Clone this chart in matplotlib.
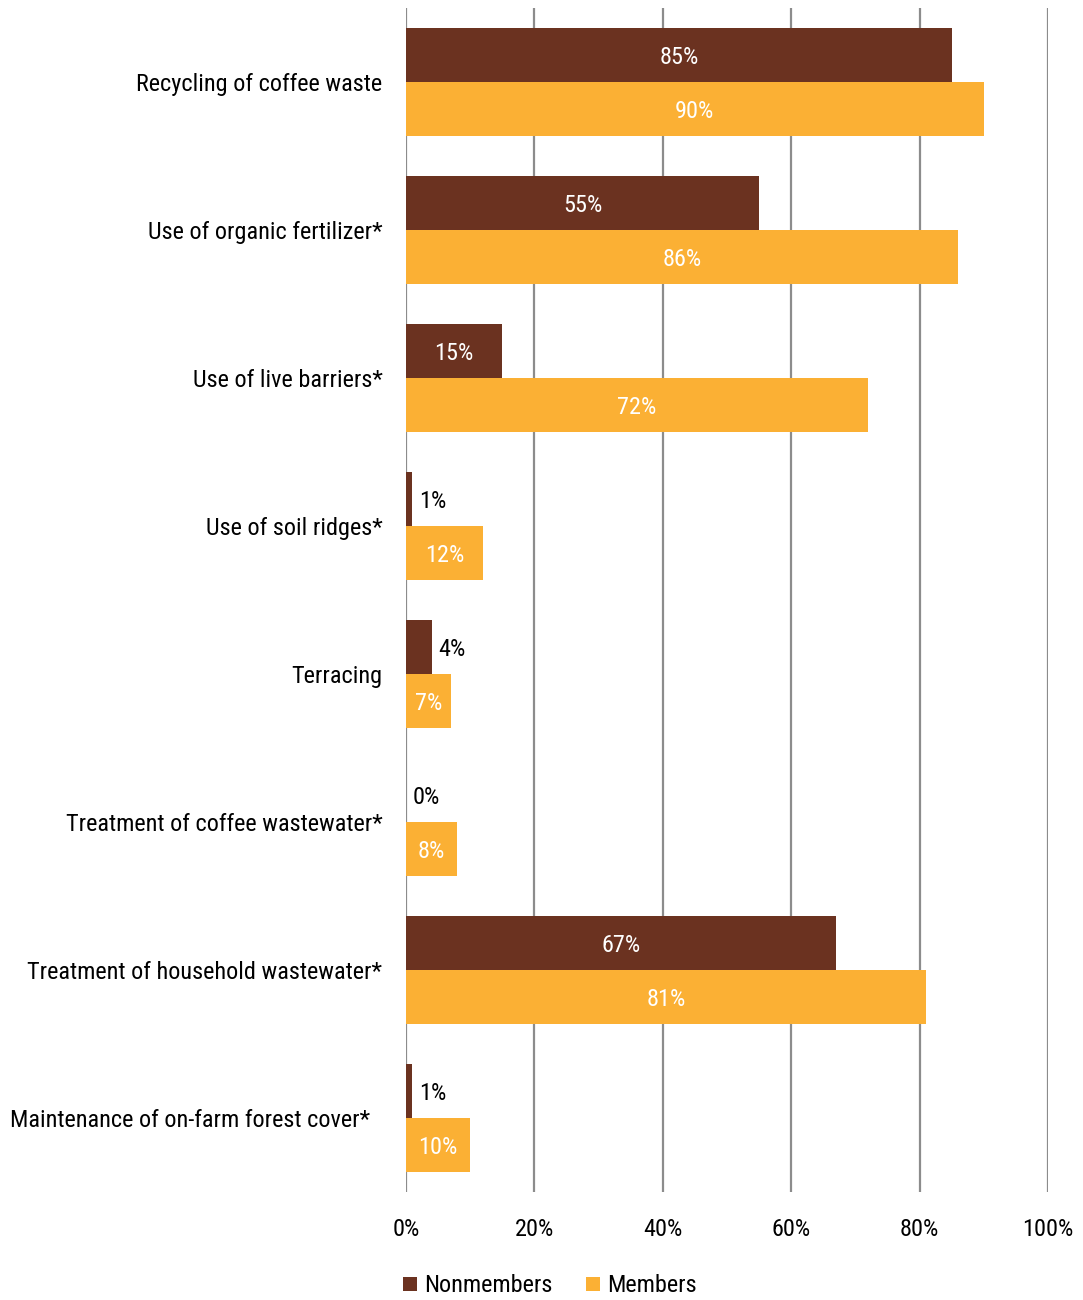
import matplotlib
matplotlib.use("Agg")
import matplotlib.pyplot as plt
import numpy as np
from matplotlib.patches import Patch

plt.rcParams['font.family'] = ['Roboto Condensed', 'Liberation Sans', 'DejaVu Sans']

categories = [
    "Recycling of coffee waste",
    "Use of organic fertilizer*",
    "Use of live barriers*",
    "Use of soil ridges*",
    "Terracing",
    "Treatment of coffee wastewater*",
    "Treatment of household wastewater*",
    "Maintenance of on-farm forest cover*",
]
nonmembers = [85, 55, 15, 1, 4, 0, 67, 1]
members = [90, 86, 72, 12, 7, 8, 81, 10]
x_ticks = [0, 20, 40, 60, 80, 100]
x_tick_labels = ["0%", "20%", "40%", "60%", "80%", "100%"]
series_names = ["Nonmembers", "Members"]

c_non = "#6B3220"
c_mem = "#FBB034"

W, H = 1083, 1300
fig = plt.figure(figsize=(W / 100, H / 100), dpi=100)
ax = fig.add_axes([406 / W, 1 - 1192 / H, (1048 - 406) / W, (1192 - 8) / H])

y = np.arange(len(categories))
bh = 0.364
ax.barh(y - bh / 2, nonmembers, height=bh, color=c_non, zorder=3)
ax.barh(y + bh / 2, members, height=bh, color=c_mem, zorder=3)

fs = 17.5
dy = -1.5
threshold = 10
for i, v in enumerate(nonmembers):
    if v >= threshold:
        ax.annotate(f"{v}%", xy=(v / 2, i - bh / 2), xytext=(0, dy),
                    textcoords="offset points", ha="center", va="center",
                    color="white", fontsize=fs, zorder=4)
    else:
        ax.annotate(f"{v}%", xy=(v, i - bh / 2), xytext=(4.5, dy),
                    textcoords="offset points", ha="left", va="center",
                    color="black", fontsize=fs, zorder=4)
for i, v in enumerate(members):
    ax.annotate(f"{v}%", xy=(v / 2, i + bh / 2), xytext=(0, dy),
                textcoords="offset points", ha="center", va="center",
                color="white", fontsize=fs, zorder=4)

ax.set_xlim(0, 100)
ax.set_ylim(len(categories) - 0.5, -0.5)
ax.set_xticks(x_ticks)
ax.set_xticklabels(x_tick_labels, fontsize=fs)
ax.tick_params(axis="x", length=0, pad=19)
ax.set_yticks([])
for s in ax.spines.values():
    s.set_visible(False)
ax.grid(axis="x", color="#8c8c8c", linewidth=1.6, zorder=0)
ax.set_axisbelow(True)

for i, c in enumerate(categories):
    off = -26 if i == len(categories) - 1 else -17
    ax.annotate(c, xy=(0, i), xycoords=("axes fraction", "data"),
                xytext=(off, dy), textcoords="offset points",
                ha="right", va="center", fontsize=fs, color="black")

handles = [Patch(facecolor=c_non), Patch(facecolor=c_mem)]
fig.legend(handles, series_names, loc="center", bbox_to_anchor=(550 / W, 1 - 1286 / H),
           ncol=2, frameon=False, fontsize=fs, handlelength=0.55, handleheight=0.55,
           handletextpad=0.3, columnspacing=1.4)

fig.savefig("out.png", dpi=100)
